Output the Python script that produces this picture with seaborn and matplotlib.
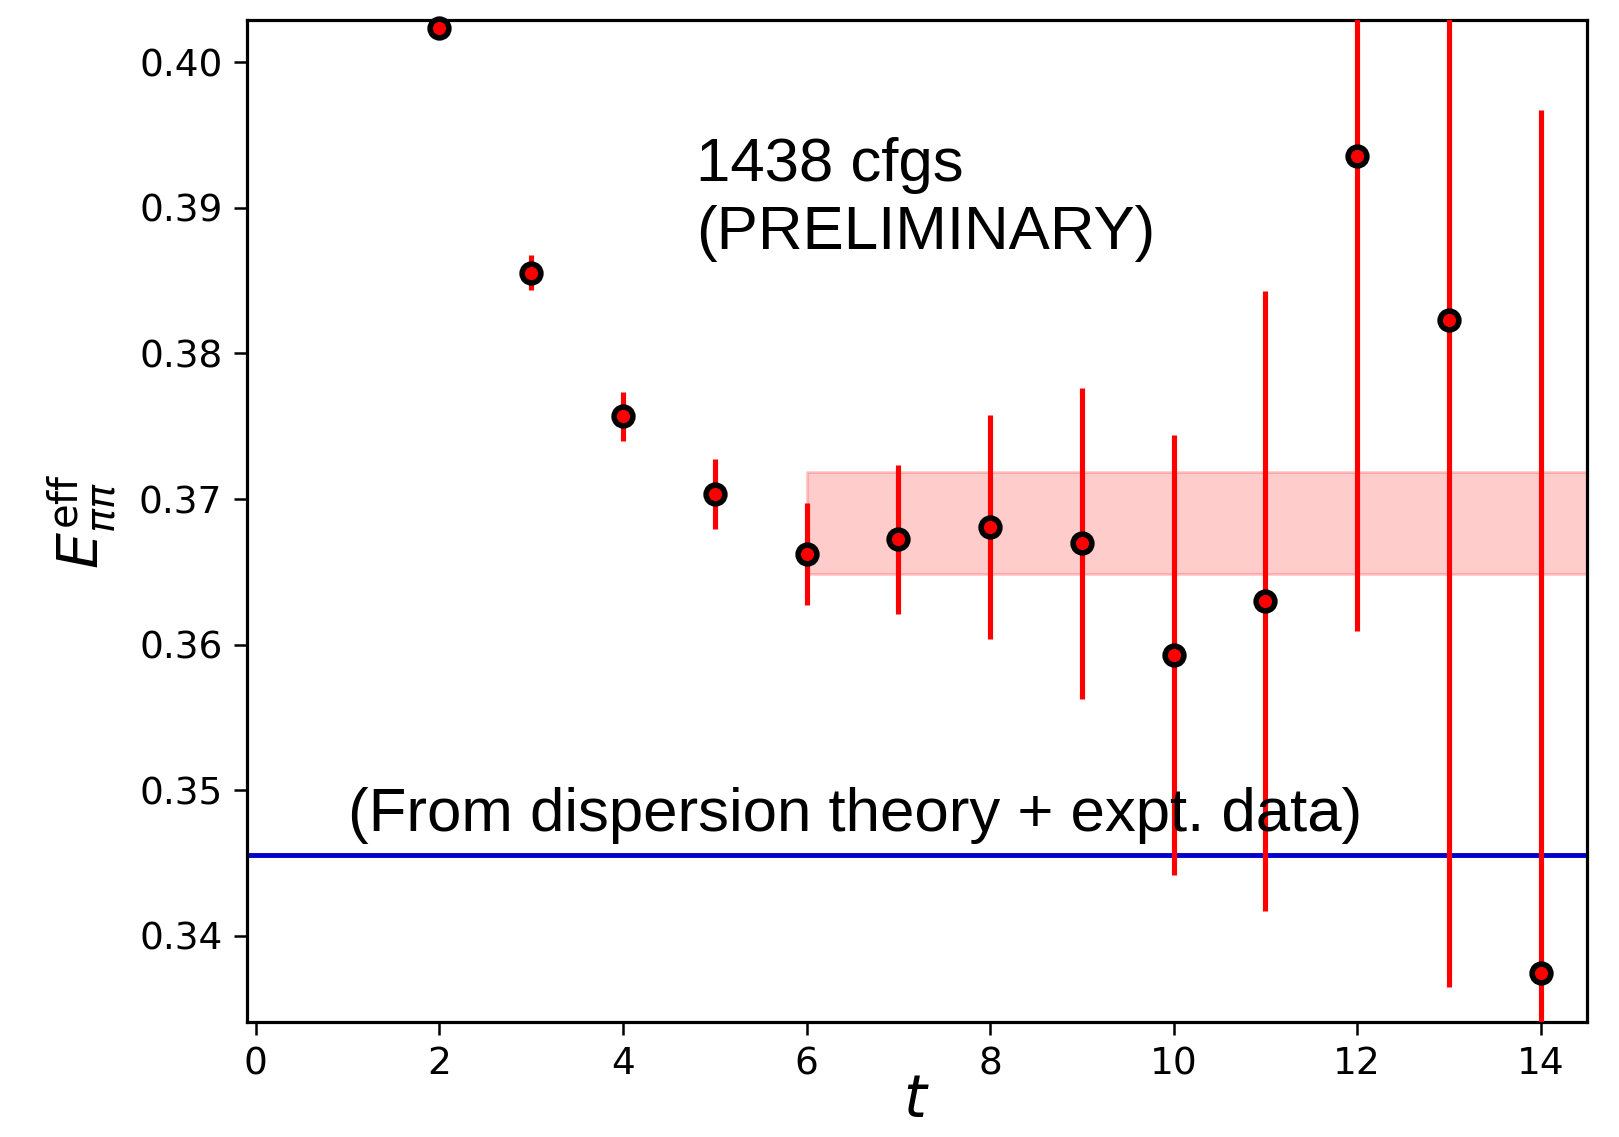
import numpy as np
import pandas as pd
import matplotlib
matplotlib.use("Agg")
import matplotlib.pyplot as plt
import seaborn as sns

# ---- data ----
t_vals = [2, 3, 4, 5, 6, 7, 8, 9, 10, 11, 12, 13, 14]
E_vals = [0.40234, 0.38553, 0.37567, 0.37035, 0.36624, 0.36723, 0.36809,
          0.36695, 0.35929, 0.36298, 0.39355, 0.38227, 0.33745]
E_errs = [0.0003, 0.0012, 0.0017, 0.0024, 0.0035, 0.0051, 0.0077,
          0.0107, 0.0151, 0.0213, 0.0326, 0.0458, 0.0593]
fit_tmin = 6
fit_center = 0.36836
fit_err = 0.00348
disp_value = 0.34553
annot_main = "1438 cfgs\n(PRELIMINARY)"
annot_disp = "(From dispersion theory + expt. data)"
xticks = [0, 2, 4, 6, 8, 10, 12, 14]
yticks = [0.34, 0.35, 0.36, 0.37, 0.38, 0.39, 0.40]

df = pd.DataFrame({"t": t_vals, "E": E_vals, "err": E_errs})

sns.set_style("ticks")
plt.rcParams["font.family"] = ["DejaVu Sans"]
plt.rcParams["mathtext.fontset"] = "dejavusans"
plt.rcParams["text.color"] = "black"
plt.rcParams["axes.labelcolor"] = "black"

fig = plt.figure(figsize=(16.19, 11.37), dpi=100)
ax = fig.add_axes([0.1524, 0.1014, 0.9800 - 0.1524, 0.9824 - 0.1014])

# fit band
ax.fill_between([fit_tmin, 16], fit_center - fit_err, fit_center + fit_err,
                color="red", alpha=0.2, lw=2, zorder=1)

# dispersion-theory line
ax.axhline(disp_value, color="#0000cc", lw=3.5, zorder=2)

# error bars
ax.errorbar(df["t"], df["E"], yerr=df["err"], fmt="none", ecolor="red",
            elinewidth=3.7, capsize=0, zorder=3)

# points
sns.scatterplot(data=df, x="t", y="E", ax=ax, color="red", edgecolor="black",
                linewidth=4.0, s=13.5 ** 2, zorder=4, legend=False, clip_on=False)

ax.text(4.8, 0.3872, annot_main, fontsize=44.5, family=["Liberation Sans"],
        ha="left", va="baseline", linespacing=1.24, color="black")
ax.text(1.0, 0.3472, annot_disp, fontsize=44.5, family=["Liberation Sans"],
        ha="left", va="baseline", color="black")

ax.set_xlim(-0.1, 14.5)
ax.set_ylim(0.3341, 0.4029)
ax.set_xticks(xticks)
ax.set_xticklabels([str(v) for v in xticks])
ax.set_yticks(yticks)
ax.set_yticklabels([f"{v:.2f}" for v in yticks])
ax.tick_params(axis="both", labelsize=27, length=9.5, width=1.8, direction="out",
               color="black", labelcolor="black", pad=8)
for sp in ax.spines.values():
    sp.set_linewidth(2.3)
    sp.set_color("black")
    sp.set_visible(True)

ax.set_xlabel(r"$t$", fontsize=42, labelpad=-7)
ax.set_ylabel(r"$E_{\pi\pi}^{\rm eff}$", fontsize=41, labelpad=14)

fig.savefig("out.png", dpi=100)
